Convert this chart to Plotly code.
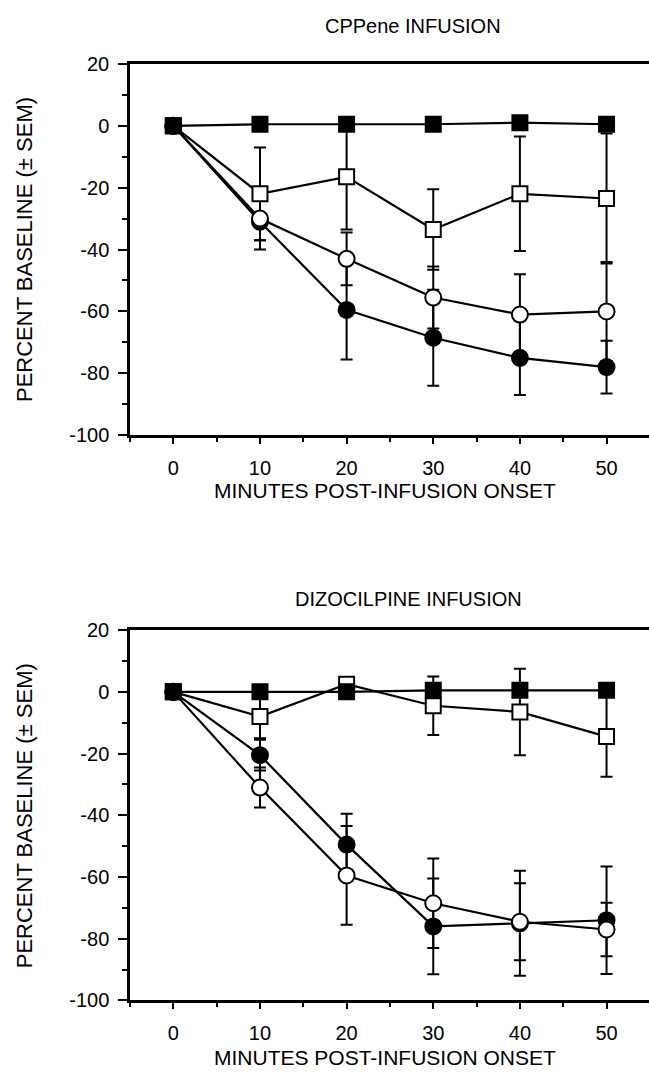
import plotly.graph_objects as go

# ---------------- data ----------------
minutes = [0, 10, 20, 30, 40, 50]

# CPPene infusion (top panel)
cpp_filled_sq = [0, 0.5, 0.5, 0.5, 1, 0.5]
cpp_filled_sq_sem = [0, 0, 0, 0, 0, 0]
cpp_open_sq = [0, -22, -16.5, -33.5, -22, -23.5]
cpp_open_sq_sem = [0, 15, 17, 13, 18.5, 21]
cpp_open_circ = [0, -30, -43, -55.5, -61, -60]
cpp_open_circ_sem = [0, 7, 8.5, 10, 13, 16]
cpp_filled_circ = [0, -31, -59.5, -68.5, -75, -78]
cpp_filled_circ_sem = [0, 9, 16, 15.5, 12, 8.5]

# Dizocilpine infusion (bottom panel)
diz_filled_sq = [0, 0, 0, 0.5, 0.5, 0.5]
diz_filled_sq_sem = [0, 0, 0, 0, 0, 0]
diz_open_sq = [0, -8, 2.5, -4.5, -6.5, -14.5]
diz_open_sq_sem = [0, 7, 1, 9.5, 14, 13]
diz_filled_circ = [0, -20.5, -49.5, -76, -75, -74]
diz_filled_circ_sem = [0, 5, 10, 15.5, 17, 17.4]
diz_open_circ = [0, -31, -59.5, -68.5, -74.5, -77]
diz_open_circ_sem = [0, 6.5, 16, 14.5, 12.5, 8.7]

x_tick_vals = [0, 10, 20, 30, 40, 50]
x_tick_text = ["0", "10", "20", "30", "40", "50"]
y_tick_vals = [20, 0, -20, -40, -60, -80, -100]
y_tick_text = ["20", "0", "-20", "-40", "-60", "-80", "-100"]

panel_titles = ["CPPene INFUSION", "DIZOCILPINE INFUSION"]
x_title = "MINUTES POST-INFUSION ONSET"
y_title = "PERCENT BASELINE (± SEM)"

FONT = "Liberation Sans, Arial, Helvetica, sans-serif"
W, H = 649, 1082

fig = go.Figure()

panels = [
    ("x", "y", [
        (cpp_filled_circ, cpp_filled_circ_sem, "circle", "black"),
        (cpp_open_circ, cpp_open_circ_sem, "circle", "white"),
        (cpp_open_sq, cpp_open_sq_sem, "square", "white"),
        (cpp_filled_sq, cpp_filled_sq_sem, "square", "black"),
    ]),
    ("x2", "y2", [
        (diz_filled_circ, diz_filled_circ_sem, "circle", "black"),
        (diz_open_circ, diz_open_circ_sem, "circle", "white"),
        (diz_open_sq, diz_open_sq_sem, "square", "white"),
        (diz_filled_sq, diz_filled_sq_sem, "square", "black"),
    ]),
]

for xa, ya, series in panels:
    # lines + error bars underneath
    for vals, sem, sym, fill in series:
        fig.add_trace(go.Scatter(
            x=minutes, y=vals, mode="lines", xaxis=xa, yaxis=ya,
            line=dict(color="black", width=2.2),
            error_y=dict(type="data", array=sem, visible=True,
                         color="black", thickness=2, width=6),
            showlegend=False, hoverinfo="skip"))
    # markers on top
    for vals, sem, sym, fill in series:
        fig.add_trace(go.Scatter(
            x=minutes, y=vals, mode="markers", xaxis=xa, yaxis=ya,
            marker=dict(symbol=sym, size=15 if sym == "square" else 16,
                        color=fill, line=dict(color="black", width=2)),
            showlegend=False))


def px_x(p):
    return p / W


def px_y(p):
    return 1 - p / H


x_dom = [px_x(130), 1.0]
top_dom = [px_y(433), px_y(54)]
bot_dom = [px_y(1010), px_y(632)]

xaxis_common = dict(
    range=[-5, 54.9], tickvals=x_tick_vals, ticktext=x_tick_text,
    ticks="outside", ticklen=6, tickwidth=2, tickcolor="black",
    minor=dict(dtick=5, tick0=0, ticks="outside", ticklen=4,
               tickwidth=1.5, tickcolor="black", showgrid=False),
    showline=True, linecolor="black", linewidth=2.5, mirror=True,
    showgrid=False, zeroline=False, ticklabelstandoff=7,
    tickfont=dict(family=FONT, size=20, color="black"),
)
yaxis_common = dict(
    range=[-100, 20], tickvals=y_tick_vals, ticktext=y_tick_text,
    ticks="outside", ticklen=9, tickwidth=2, tickcolor="black",
    minor=dict(dtick=10, tick0=0, ticks="outside", ticklen=5,
               tickwidth=1.5, tickcolor="black", showgrid=False),
    showline=True, linecolor="black", linewidth=2.5, mirror=False,
    showgrid=False, zeroline=False, ticklabelstandoff=5,
    tickfont=dict(family=FONT, size=20, color="black"),
)

fig.update_layout(
    width=W, height=H,
    margin=dict(l=0, r=0, t=0, b=0),
    paper_bgcolor="white", plot_bgcolor="white",
    font=dict(family=FONT, color="black"),
    xaxis=dict(domain=x_dom, anchor="y", **xaxis_common),
    yaxis=dict(domain=top_dom, anchor="x", **yaxis_common),
    xaxis2=dict(domain=x_dom, anchor="y2", **xaxis_common),
    yaxis2=dict(domain=bot_dom, anchor="x2", **yaxis_common),
)

annots = []
for title, tx, ty, xty, ycen in [
    (panel_titles[0], 413, 15, 489, 244),
    (panel_titles[1], 408, 600, 1068, 822),
]:
    annots.append(dict(text=title, xref="paper", yref="paper",
                       x=px_x(tx), y=px_y(ty), showarrow=False,
                       xanchor="center", yanchor="middle",
                       font=dict(family=FONT, size=20, color="black")))
    annots.append(dict(text=x_title, xref="paper", yref="paper",
                       x=px_x(385), y=px_y(xty), showarrow=False,
                       xanchor="center", yanchor="middle",
                       font=dict(family=FONT, size=21, color="black")))
    annots.append(dict(text=y_title, xref="paper", yref="paper",
                       x=px_x(24), y=px_y(ycen), showarrow=False,
                       textangle=-90, xanchor="center", yanchor="middle",
                       font=dict(family=FONT, size=22, color="black")))
fig.update_layout(annotations=annots)

fig.write_html(
    "out.html",
    config={"displayModeBar": False},
    post_script="document.body.style.margin='0px';"
                "document.documentElement.style.overflow='hidden';",
)
